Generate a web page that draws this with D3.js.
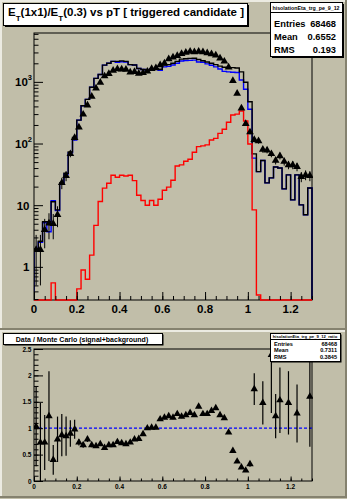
<!DOCTYPE html>
<html><head><meta charset="utf-8">
<script src="https://cdn.jsdelivr.net/npm/d3@7"></script>
<style>body{margin:0;background:#c1bea9}svg{display:block}text{font-family:"Liberation Sans",Arial,sans-serif;font-weight:bold;fill:#000}</style>
</head><body><svg id="c" width="347" height="499"></svg>
<script>
// ---------------- data ----------------
const binWidth = 0.02;
const binLow = d3.range(65).map(i => +(i * binWidth).toFixed(2));
const xTickLabels = ["0", "0.2", "0.4", "0.6", "0.8", "1", "1.2"];
const xTickValues = [0, 0.2, 0.4, 0.6, 0.8, 1.0, 1.2];
const ratioTickLabels = ["0", "0.5", "1", "1.5", "2", "2.5"];
const ratioTickValues = [0, 0.5, 1, 1.5, 2, 2.5];

// MC total (black)
const mcTotal = [1.9,2.6,5.4,5.4,11.4,8.4,23,33,73,125,240,410,520,820,1140,1320,1870,2000,2150,2150,
  2190,2150,1900,1880,1650,1590,1550,1600,1620,1600,1870,1900,2000,2150,2340,2370,2400,2420,2300,2200,
  2100,2000,1900,1800,1730,1700,1700,1680,1450,985,475,68,35,53,23,27.7,41.6,40,18.4,31,12.2,31,10.1,7,19];
// MC signal (blue)
const mcSignal = [1.8,2.5,5.2,3.7,11.8,8.2,22,32,71,114,240,410,520,820,1140,1320,1870,2000,2150,2080,
  2120,2100,1900,1880,1650,1590,1550,1600,1620,1540,1750,1780,1880,2000,2180,2220,2230,2250,2100,2080,
  1960,1860,1750,1620,1480,1450,1430,1420,1070,760,360,58,35,53,23,27.7,41.6,40,18.4,31,12.2,31,10.1,7,19];
// MC background (red)
const mcBackground = [0,0,0,0,0.55,0,0,0,0,0,0.44,0.89,0.63,1.55,4.7,11.5,18.9,22.7,30.6,28.4,
  30.6,29.8,30.6,25,14.5,11.9,10,11.9,10,12.5,17.5,19.6,25.4,43.3,45,51.5,55.5,72,89,91.5,
  95,114,121,146,170,221,290,300,337,232,98,8.4,0.35,0,0,0,0,0,0,0,0,0,0,0,0];
// data (triangles)
const dataVals = [1.9,1.9,4.0,5.1,5.0,7.0,23,30,68,124,184,297,418,580,785,975,1240,1350,1530,1620,
  1600,1590,1430,1460,1370,1400,1480,1630,1680,1870,2000,2340,2500,2650,2850,3000,3100,3050,3100,3050,
  2950,2840,2700,2420,2150,1730,1040,650,373,210,153,115,110,80,78,68,53,63,51,45,45,42,29,31,30];
const dataErr = [1.4,1.4,2.0,2.3,2.2,2.6,4.8,5.5,8.2,11,13.6,17,20,24,28,31,35,37,39,40,
  40,40,38,38,37,37,38,40,41,43,45,48,50,51,53,55,56,55,56,55,
  54,53,52,49,46,42,32,25,19,14.5,12.4,10.7,10.5,9,8.8,8.2,7.3,7.9,7.1,6.7,6.7,6.5,5.4,5.6,5.5];
// ratio data / MC
const ratioVals = [1.03,0.73,0.73,1.23,0.40,0.79,0.87,0.85,0.90,0.98,0.73,0.68,0.79,0.68,0.66,0.70,0.63,0.68,0.68,0.74,
  0.72,0.70,0.73,0.79,0.80,0.89,1.00,1.01,1.01,1.17,1.20,1.23,1.20,1.27,1.22,1.25,1.29,1.25,1.41,1.27,
  1.27,1.33,1.38,1.25,1.19,0.92,0.57,0.37,0.26,0.20,0.32,1.74,null,1.48,null,2.39,1.23,1.53,null,1.48,
  null,1.28,null,null,1.60];
const ratioErr = [0.75,0.75,0.52,0.85,0.28,0.43,0.40,0.37,0.25,0.18,0.06,0.05,0.05,0.04,0.03,0.03,0.03,0.03,0.03,0.03,
  0.03,0.03,0.03,0.03,0.03,0.03,0.03,0.03,0.03,0.03,0.03,0.03,0.03,0.03,0.03,0.03,0.03,0.03,0.03,0.03,
  0.03,0.03,0.03,0.03,0.03,0.03,0.03,0.03,0.03,0.03,0.05,0.30,0,0.41,0,1.1,0.42,0.62,0,0.6,
  0,0.55,0,0,0.95];

// ---------------- drawing ----------------
const svg = d3.select("#c");
const bg = "#c1bea9";

// pads
function pad(y0, y1) {
  svg.append("rect").attr("x", 0).attr("y", y0).attr("width", 347).attr("height", y1 - y0).attr("fill", bg);
  svg.append("rect").attr("x", 0).attr("y", y0).attr("width", 2).attr("height", y1 - y0).attr("fill", "#ecebe2");
  svg.append("rect").attr("x", 0).attr("y", y0).attr("width", 347).attr("height", 2).attr("fill", "#ecebe2");
  svg.append("rect").attr("x", 345).attr("y", y0).attr("width", 2).attr("height", y1 - y0).attr("fill", "#85826f");
  svg.append("rect").attr("x", 0).attr("y", y1 - 2).attr("width", 347).attr("height", 2).attr("fill", "#85826f");
}
pad(0, 330);
pad(330, 498);

// ---------- top pad ----------
const fx0 = 34, fx1 = 312, fy0 = 33, fy1 = 300;
const x = d3.scaleLinear().domain([0, 1.3]).range([fx0, fx1]);
const y = d3.scaleLog().domain([0.29, 6200]).range([fy1, fy0]).clamp(true);

svg.append("defs").html(
  `<clipPath id="clipTop"><rect x="${fx0}" y="${fy0 - 1}" width="${fx1 - fx0 + 1}" height="${fy1 - fy0 + 2}"/></clipPath>
   <clipPath id="clipBot"><rect x="34" y="349" width="279" height="133"/></clipPath>`);

svg.append("rect").attr("x", fx0).attr("y", fy0).attr("width", fx1 - fx0).attr("height", fy1 - fy0)
  .attr("fill", "none").attr("stroke", "#000").attr("stroke-width", 1);

function histPath(vals) {
  let p = `M${x(0)},${fy1}`;
  vals.forEach((v, i) => {
    const yy = v > 0 ? y(v) : fy1;
    p += `L${x(binLow[i])},${yy}L${x(binLow[i] + binWidth)},${yy}`;
  });
  p += `L${x(1.3)},${fy1}`;
  return p;
}
const gTop = svg.append("g").attr("clip-path", "url(#clipTop)");
gTop.append("path").attr("d", histPath(mcSignal)).attr("fill", "none").attr("stroke", "#0000ff").attr("stroke-width", 1.4);
gTop.append("path").attr("d", histPath(mcTotal)).attr("fill", "none").attr("stroke", "#000").attr("stroke-width", 1.4);
gTop.append("path").attr("d", histPath(mcBackground)).attr("fill", "none").attr("stroke", "#ff0000").attr("stroke-width", 1.4);

const tri = d3.symbol(d3.symbolTriangle, 26);
dataVals.forEach((v, i) => {
  const cx = x(binLow[i] + binWidth / 2);
  const lo = Math.max(v - dataErr[i], 0.0001), hi = v + dataErr[i];
  gTop.append("line").attr("x1", cx).attr("x2", cx).attr("y1", y(lo)).attr("y2", y(hi)).attr("stroke", "#000").attr("stroke-width", 1);
  gTop.append("path").attr("d", tri()).attr("transform", `translate(${cx},${y(v)})`).attr("fill", "#000");
});

// axes top
const xMinor = d3.range(0, 1.3001, 0.05).map(v => +v.toFixed(2));
svg.append("g").attr("transform", `translate(0,${fy1})`)
  .call(d3.axisBottom(x).tickValues(xMinor).tickSize(-4).tickFormat(""))
  .call(g => g.select(".domain").remove());
svg.append("g").attr("transform", `translate(0,${fy1})`)
  .call(d3.axisBottom(x).tickValues(xTickValues).tickSize(-8).tickFormat(""))
  .call(g => g.select(".domain").remove());
xTickValues.forEach((v, i) => {
  svg.append("text").attr("x", x(v)).attr("y", 313).attr("text-anchor", "middle")
    .attr("font-size", 11.5).text(xTickLabels[i]);
});
const yMinor = [];
[0.1, 1, 10, 100, 1000].forEach(d => { for (let k = 2; k <= 9; k++) { const v = d * k; if (v > 0.29 && v < 6200) yMinor.push(v); } });
const yMajor = [1, 10, 100, 1000];
svg.append("g").attr("transform", `translate(${fx0},0)`)
  .call(d3.axisLeft(y).tickValues(yMinor).tickSize(-4.5).tickFormat(""))
  .call(g => g.select(".domain").remove());
svg.append("g").attr("transform", `translate(${fx0},0)`)
  .call(d3.axisLeft(y).tickValues(yMajor).tickSize(-9).tickFormat(""))
  .call(g => g.select(".domain").remove());
const yLab = [["1", null], ["10", null], ["10", "2"], ["10", "3"]];
yMajor.forEach((v, i) => {
  const t = svg.append("text").attr("x", yLab[i][1] ? 32 : 29.5).attr("y", y(v) + 4.5)
    .attr("text-anchor", "end").attr("font-size", 11.5).text(yLab[i][0]);
  if (yLab[i][1]) t.append("tspan").attr("dy", -6).attr("font-size", 7.5).text(yLab[i][1]);
});

// title box
function shadowBox(x0, y0, w, h, sh) {
  svg.append("rect").attr("x", x0 + sh).attr("y", y0 + sh).attr("width", w).attr("height", h).attr("fill", "#000");
  svg.append("rect").attr("x", x0 + 0.5).attr("y", y0 + 0.5).attr("width", w).attr("height", h)
    .attr("fill", "#fff").attr("stroke", "#000").attr("stroke-width", 1);
}
shadowBox(3, 3, 244, 22, 2);
const title = svg.append("text").attr("x", 8).attr("y", 16).attr("font-size", 11.5);
title.append("tspan").text("E");
title.append("tspan").attr("dy", 4.5).attr("font-size", 8).text("T");
title.append("tspan").attr("dy", -4.5).text("(1x1)/E");
title.append("tspan").attr("dy", 4.5).attr("font-size", 8).text("T");
title.append("tspan").attr("dy", -4.5).text("(0.3) vs pT [ triggered candidate ]");

// stats box top
shadowBox(270, 2, 72, 54, 2);
svg.append("line").attr("x1", 270.5).attr("x2", 342.5).attr("y1", 12.5).attr("y2", 12.5).attr("stroke", "#000");
svg.append("text").attr("x", 306).attr("y", 9.5).attr("text-anchor", "middle").attr("font-size", 5.3).attr("font-weight", "normal").text("hisolationEta_trg_pe_9_12");
const stats1 = [["Entries", "68468", 26.5], ["Mean", "0.6552", 39.5], ["RMS", "0.193", 52.5]];
stats1.forEach(s => {
  svg.append("text").attr("x", 274).attr("y", s[2]).attr("font-size", 9.3).text(s[0]);
  svg.append("text").attr("x", 336).attr("y", s[2]).attr("text-anchor", "end").attr("font-size", 9.3).text(s[1]);
});

// ---------- bottom pad ----------
const rx = d3.scaleLinear().domain([0, 1.3]).range([34, 312]);
const ry = d3.scaleLinear().domain([0, 2.5]).range([481, 349]);
svg.append("rect").attr("x", 34).attr("y", 349).attr("width", 278).attr("height", 132)
  .attr("fill", "none").attr("stroke", "#000").attr("stroke-width", 1);

const gBot = svg.append("g").attr("clip-path", "url(#clipBot)");
gBot.append("line").attr("x1", rx(0)).attr("x2", rx(1.3)).attr("y1", ry(1)).attr("y2", ry(1))
  .attr("stroke", "#0000ff").attr("stroke-width", 1.2).attr("stroke-dasharray", "3,2");
const tri2 = d3.symbol(d3.symbolTriangle, 24);
ratioVals.forEach((v, i) => {
  if (v === null) return;
  const cx = rx(binLow[i] + binWidth / 2);
  gBot.append("line").attr("x1", cx).attr("x2", cx).attr("y1", ry(Math.max(v - ratioErr[i], 0))).attr("y2", ry(v + ratioErr[i]))
    .attr("stroke", "#000").attr("stroke-width", 1.2);
  gBot.append("path").attr("d", tri2()).attr("transform", `translate(${cx},${ry(v)})`).attr("fill", "#000");
});

svg.append("g").attr("transform", "translate(0,481)")
  .call(d3.axisBottom(rx).tickValues(xMinor).tickSize(-2.5).tickFormat(""))
  .call(g => g.select(".domain").remove());
svg.append("g").attr("transform", "translate(0,481)")
  .call(d3.axisBottom(rx).tickValues(xTickValues).tickSize(-4.5).tickFormat(""))
  .call(g => g.select(".domain").remove());
xTickValues.forEach((v, i) => {
  svg.append("text").attr("x", rx(v)).attr("y", 489).attr("text-anchor", "middle")
    .attr("font-size", 6.5).text(xTickLabels[i]);
});
const ryMinor = d3.range(0, 2.5001, 0.1).map(v => +v.toFixed(1));
svg.append("g").attr("transform", "translate(34,0)")
  .call(d3.axisLeft(ry).tickValues(ryMinor).tickSize(-4.5).tickFormat(""))
  .call(g => g.select(".domain").remove());
svg.append("g").attr("transform", "translate(34,0)")
  .call(d3.axisLeft(ry).tickValues(ratioTickValues).tickSize(-9).tickFormat(""))
  .call(g => g.select(".domain").remove());
ratioTickValues.forEach((v, i) => {
  svg.append("text").attr("x", 31.5).attr("y", ry(v) + 2.5).attr("text-anchor", "end")
    .attr("font-size", 6.5).text(ratioTickLabels[i]);
});

// bottom title
shadowBox(3, 333, 159, 11, 1.5);
svg.append("text").attr("x", 82).attr("y", 341.8).attr("text-anchor", "middle").attr("font-size", 7).text("Data / Monte Carlo (signal+background)");

// bottom stats box
shadowBox(270, 333, 70, 28, 1.5);
svg.append("line").attr("x1", 270.5).attr("x2", 340.5).attr("y1", 339.5).attr("y2", 339.5).attr("stroke", "#000");
svg.append("text").attr("x", 305).attr("y", 338).attr("text-anchor", "middle").attr("font-size", 4.2).attr("font-weight", "normal").text("hisolationEta_trg_pe_9_12_ratio");
const stats2 = [["Entries", "68468", 345.8], ["Mean", "0.7311", 352.2], ["RMS", "0.3845", 358.6]];
stats2.forEach(s => {
  svg.append("text").attr("x", 274).attr("y", s[2]).attr("font-size", 5.6).text(s[0]);
  svg.append("text").attr("x", 337).attr("y", s[2]).attr("text-anchor", "end").attr("font-size", 5.6).text(s[1]);
});
</script>
</body></html>
